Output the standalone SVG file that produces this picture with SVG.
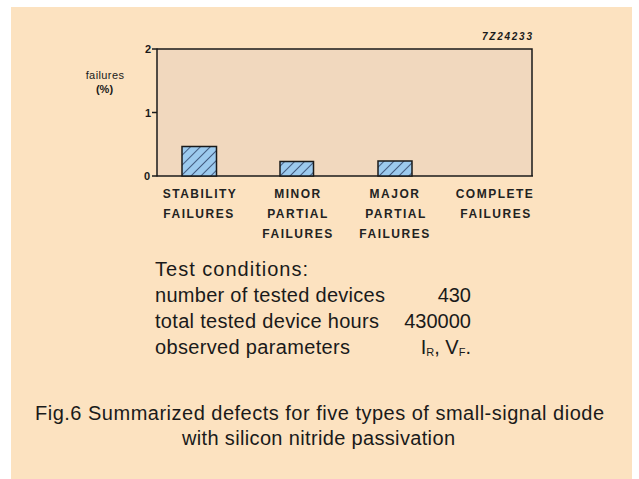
<svg xmlns="http://www.w3.org/2000/svg" width="639" height="479" viewBox="0 0 639 479">
<defs>
<style>
.cat{font-family:"Liberation Sans",Arial,sans-serif;font-size:12px;font-weight:bold;letter-spacing:1.5px;fill:#222;text-anchor:middle}
.tick{font-family:"Liberation Sans",Arial,sans-serif;font-size:11px;font-weight:bold;fill:#1a1a1a;text-anchor:end}
.body{font-family:"Liberation Sans",Arial,sans-serif;font-size:20px;fill:#1a1a1a}
.ax{stroke:#1a1a1a;stroke-width:1.5;fill:none}
.bar{fill:url(#hatch);stroke:#1a1a1a;stroke-width:1.5}
</style>
<pattern id="hatch" patternUnits="userSpaceOnUse" width="7" height="7" patternTransform="rotate(45)">
<rect width="7" height="7" fill="#9ccaee"/>
<line x1="0" y1="0" x2="0" y2="7" stroke="#1f2f55" stroke-width="1.4"/>
</pattern>
</defs>
<rect width="639" height="479" fill="#ffffff"/>
<rect x="11" y="7" width="621" height="472" fill="#fce2c0"/>
<g id="chart">
<rect x="157" y="49" width="375" height="127" fill="#f1d8be"/>
<polyline class="ax" points="157,49 532,49 532,176"/>
<line class="ax" x1="157" y1="48.5" x2="157" y2="176.5"/>
<line class="ax" x1="152" y1="176" x2="533" y2="176"/>
<line class="ax" x1="152" y1="49" x2="157" y2="49"/>
<line class="ax" x1="152" y1="112.5" x2="157" y2="112.5"/>
<text class="tick" x="151" y="53">2</text>
<text class="tick" x="151" y="116.5">1</text>
<text class="tick" x="150" y="180">0</text>
<text x="532" y="40" font-family="'Liberation Sans',Arial,sans-serif" font-size="10" font-weight="bold" font-style="italic" fill="#1a1a1a" text-anchor="end" textLength="50">7Z24233</text>
<text font-family="'Liberation Sans',Arial,sans-serif" font-size="11" fill="#1a1a1a" text-anchor="middle"><tspan x="105" y="79" letter-spacing="0.4">failures</tspan><tspan x="104.5" y="93" font-weight="bold">(%)</tspan></text>
</g>
<g id="bars">
<rect class="bar" x="182" y="146.5" width="34.5" height="29.5"/>
<rect class="bar" x="280" y="161.5" width="33.5" height="14.5"/>
<rect class="bar" x="378" y="161" width="34" height="15"/>
</g>
<g id="labels">
<text class="cat"><tspan x="200" y="198">STABILITY</tspan><tspan x="199" y="218">FAILURES</tspan></text>
<text class="cat"><tspan x="298" y="198">MINOR</tspan><tspan x="298" y="218">PARTIAL</tspan><tspan x="298" y="238">FAILURES</tspan></text>
<text class="cat"><tspan x="395" y="198">MAJOR</tspan><tspan x="396" y="218">PARTIAL</tspan><tspan x="395" y="238">FAILURES</tspan></text>
<text class="cat"><tspan x="495" y="198">COMPLETE</tspan><tspan x="496" y="218">FAILURES</tspan></text>
</g>
<g id="conditions">
<text class="body" x="155" y="276" textLength="153">Test conditions:</text>
<text class="body" x="155" y="302" textLength="230">number of tested devices</text>
<text class="body" x="155" y="328" textLength="224">total tested device hours</text>
<text class="body" x="155" y="354" textLength="195">observed parameters</text>
<text class="body" x="471" y="302" text-anchor="end">430</text>
<text class="body" x="471" y="328" text-anchor="end">430000</text>
<text class="body" x="471" y="354" text-anchor="end">I<tspan font-size="11" dy="2">R</tspan><tspan dy="-2">, V</tspan><tspan font-size="11" dy="2">F</tspan><tspan dy="-2">.</tspan></text>
</g>
<g id="caption">
<text class="body" x="35" y="420" textLength="569">Fig.6   Summarized defects for five types of small-signal diode</text>
<text class="body" x="182" y="445" textLength="273">with silicon nitride passivation</text>
</g>
</svg>
